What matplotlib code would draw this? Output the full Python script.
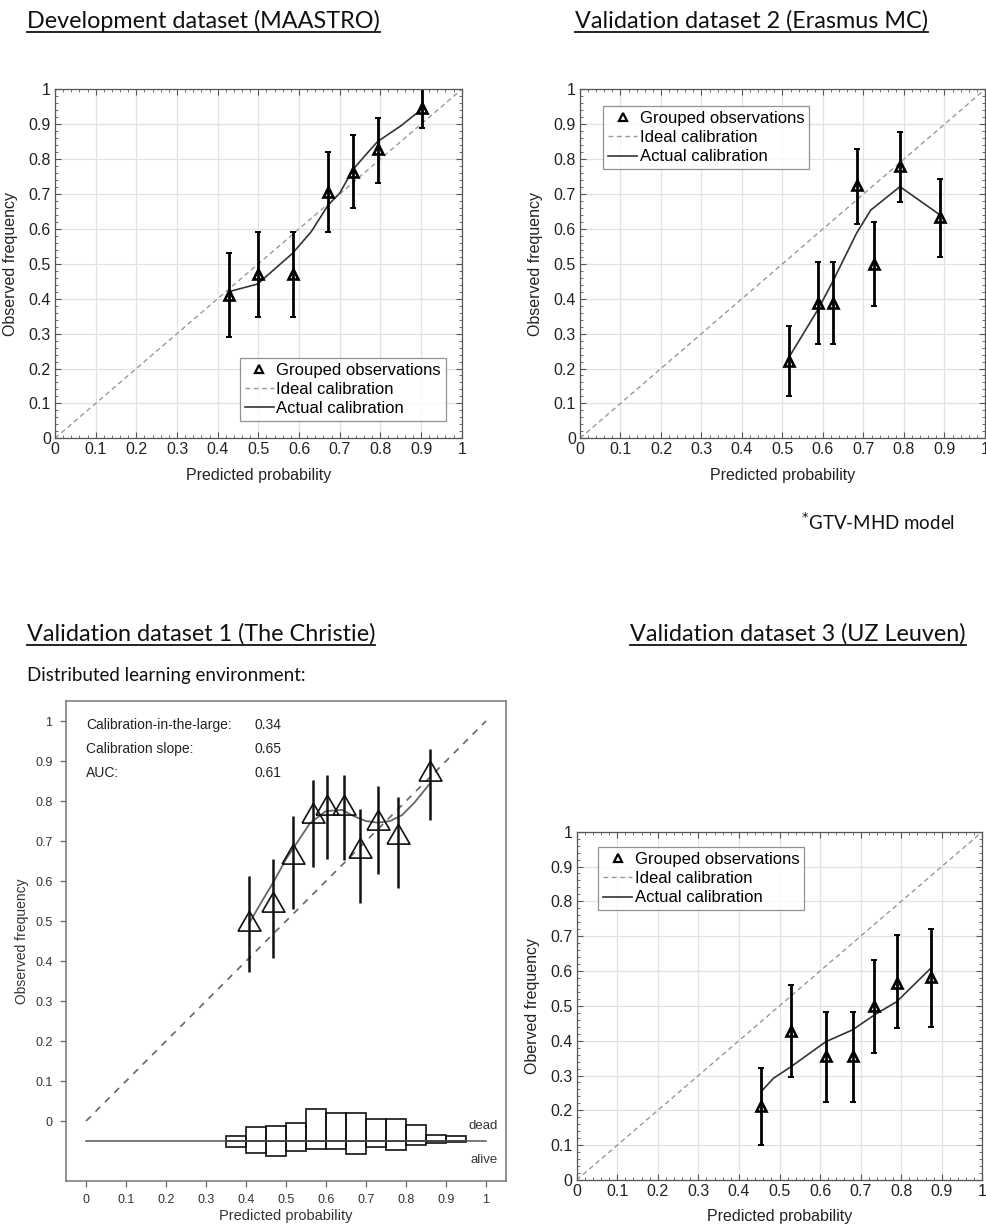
import numpy as np
import matplotlib
matplotlib.use('Agg')
import matplotlib.pyplot as plt
from matplotlib.lines import Line2D
from matplotlib.ticker import FixedLocator

# ---------------- data ----------------
# Development dataset (MAASTRO)
dev_pred = [0.427, 0.498, 0.584, 0.672, 0.732, 0.793, 0.902]
dev_obs = [0.411, 0.471, 0.471, 0.707, 0.764, 0.829, 0.946]
dev_lo = [0.291, 0.347, 0.347, 0.592, 0.661, 0.731, 0.888]
dev_hi = [0.530, 0.592, 0.592, 0.819, 0.869, 0.917, 1.000]
dev_curve_x = [0.427, 0.498, 0.545, 0.584, 0.630, 0.672, 0.700, 0.732, 0.760, 0.793, 0.850, 0.902]
dev_curve_y = [0.420, 0.442, 0.490, 0.530, 0.592, 0.669, 0.702, 0.769, 0.807, 0.850, 0.895, 0.943]

# Validation dataset 2 (Erasmus MC)
v2_pred = [0.517, 0.587, 0.624, 0.683, 0.726, 0.790, 0.889]
v2_obs = [0.222, 0.389, 0.389, 0.726, 0.500, 0.780, 0.633]
v2_lo = [0.121, 0.270, 0.270, 0.614, 0.380, 0.678, 0.519]
v2_hi = [0.322, 0.506, 0.506, 0.829, 0.619, 0.877, 0.743]
v2_curve_x = [0.517, 0.587, 0.624, 0.683, 0.718, 0.790, 0.889]
v2_curve_y = [0.234, 0.368, 0.449, 0.588, 0.654, 0.721, 0.640]

# Validation dataset 3 (UZ Leuven)
v3_pred = [0.455, 0.528, 0.614, 0.680, 0.734, 0.789, 0.873]
v3_obs = [0.213, 0.428, 0.356, 0.356, 0.500, 0.567, 0.584]
v3_lo = [0.100, 0.297, 0.225, 0.225, 0.364, 0.435, 0.438]
v3_hi = [0.321, 0.560, 0.483, 0.483, 0.633, 0.703, 0.721]
v3_curve_x = [0.455, 0.485, 0.528, 0.614, 0.680, 0.734, 0.789, 0.873]
v3_curve_y = [0.254, 0.292, 0.325, 0.397, 0.431, 0.474, 0.512, 0.608]

# Validation dataset 1 (The Christie) - distributed learning
v1_pred = [0.408, 0.468, 0.517, 0.567, 0.603, 0.645, 0.684, 0.730, 0.781, 0.859]
v1_obs = [0.493, 0.539, 0.659, 0.762, 0.783, 0.783, 0.676, 0.746, 0.709, 0.867]
v1_lo = [0.373, 0.408, 0.529, 0.635, 0.654, 0.652, 0.545, 0.618, 0.582, 0.753]
v1_hi = [0.613, 0.656, 0.763, 0.852, 0.865, 0.865, 0.780, 0.838, 0.809, 0.930]
v1_curve_x = [0.408, 0.440, 0.470, 0.500, 0.530, 0.560, 0.600, 0.640, 0.670, 0.700, 0.730, 0.760, 0.790, 0.820, 0.859]
v1_curve_y = [0.495, 0.550, 0.600, 0.655, 0.700, 0.745, 0.775, 0.778, 0.762, 0.750, 0.746, 0.750, 0.765, 0.795, 0.843]
v1_bin_edges = [0.35, 0.40, 0.45, 0.50, 0.55, 0.60, 0.65, 0.70, 0.75, 0.80, 0.85, 0.90]
v1_dead = [0.012, 0.035, 0.038, 0.046, 0.079, 0.071, 0.070, 0.054, 0.055, 0.039, 0.015, 0.012]
v1_alive = [0.015, 0.030, 0.038, 0.025, 0.021, 0.021, 0.033, 0.015, 0.022, 0.011, 0.006, 0.003]
v1_stats_labels = ["Calibration-in-the-large:", "Calibration slope:", "AUC:"]
v1_stats_values = ["0.34", "0.65", "0.61"]

ticks = [0, 0.1, 0.2, 0.3, 0.4, 0.5, 0.6, 0.7, 0.8, 0.9, 1]
tick_labels = ["0", "0.1", "0.2", "0.3", "0.4", "0.5", "0.6", "0.7", "0.8", "0.9", "1"]
legend_labels = ["Grouped observations", "Ideal calibration", "Actual calibration"]

# ---------------- figure ----------------
W, H = 987, 1226
fig = plt.figure(figsize=(W / 100, H / 100), dpi=100)
fig.patch.set_facecolor('white')
plt.rcParams['font.family'] = ['Liberation Sans', 'DejaVu Sans']


def px_axes(left, top, right, bottom):
    return fig.add_axes([left / W, 1 - bottom / H, (right - left) / W, (bottom - top) / H])


def matlab_panel(ax, px, obs, lo, hi, cx, cy, ylabel, legend_anchor, legend_loc, xlab_y):
    ax.set_xlim(0, 1)
    ax.set_ylim(0, 1)
    ax.set_xticks(ticks)
    ax.set_yticks(ticks)
    ax.set_xticklabels(tick_labels)
    ax.set_yticklabels(tick_labels)
    ax.xaxis.set_minor_locator(FixedLocator(np.arange(0, 1.001, 0.02)))
    ax.yaxis.set_minor_locator(FixedLocator(np.arange(0, 1.001, 0.02)))
    ax.grid(True, which='major', color='#e2e2e2', lw=0.9)
    ax.set_axisbelow(True)
    ax.tick_params(which='both', direction='in', top=True, right=True, color='#555555')
    ax.tick_params(which='major', length=4, width=0.8, labelsize=11.5, labelcolor='#222222', pad=3)
    ax.tick_params(which='minor', length=2, width=0.6)
    for s in ax.spines.values():
        s.set_color('#555555')
        s.set_linewidth(0.9)
    ax.plot([0, 1], [0, 1], ls=(0, (3.5, 2.5)), color='#999999', lw=1.0)
    ax.plot(cx, cy, color='#333333', lw=1.2)
    obs_a = np.array(obs)
    ax.errorbar(px, obs, yerr=[obs_a - np.array(lo), np.array(hi) - obs_a], fmt='none',
                ecolor='black', elinewidth=2.0, capsize=2.2, capthick=1.4)
    ax.plot(px, obs, ls='none', marker='^', ms=7.5, mfc='none', mec='black', mew=1.9)
    ax.set_xlabel("Predicted probability", fontsize=11.5, color='#222222')
    ax.set_ylabel(ylabel, fontsize=11.5, color='#222222')
    ax.xaxis.set_label_coords(0.5, xlab_y)
    ax.yaxis.set_label_coords(-0.091, 0.5)
    handles = [
        Line2D([], [], ls='none', marker='^', ms=6, mfc='none', mec='black', mew=1.6),
        Line2D([], [], ls=(0, (3.5, 2.5)), color='#999999', lw=1.0),
        Line2D([], [], color='#333333', lw=1.2),
    ]
    leg = ax.legend(handles, legend_labels, loc=legend_loc, bbox_to_anchor=legend_anchor,
                    borderaxespad=0, fontsize=12, frameon=True, fancybox=False,
                    handlelength=1.75, handletextpad=0.15, labelspacing=0.25,
                    borderpad=0.3)
    leg.get_frame().set_edgecolor('#777777')
    leg.get_frame().set_linewidth(0.9)


# top-left
ax1 = px_axes(55, 89.3, 461.7, 438.3)
matlab_panel(ax1, dev_pred, dev_obs, dev_lo, dev_hi, dev_curve_x, dev_curve_y,
             "Observed frequency", (0.961, 0.05), 'lower right', -0.085)
# top-right
ax2 = px_axes(580, 89.3, 985, 438.3)
matlab_panel(ax2, v2_pred, v2_obs, v2_lo, v2_hi, v2_curve_x, v2_curve_y,
             "Observed frequency", (0.057, 0.952), 'upper left', -0.085)
# bottom-right
ax4 = px_axes(576.7, 831.7, 982.3, 1180)
matlab_panel(ax4, v3_pred, v3_obs, v3_lo, v3_hi, v3_curve_x, v3_curve_y,
             "Oberved frequency", (0.0525, 0.956), 'upper left', -0.084)

# bottom-left (R style)
ax3 = px_axes(65.7, 700.7, 506, 1181)
ax3.set_xlim(-0.051, 1.05)
ax3.set_ylim(-0.15, 1.051)
ax3.set_xticks(ticks)
ax3.set_yticks(ticks)
ax3.set_xticklabels(tick_labels)
ax3.set_yticklabels(tick_labels)
ax3.tick_params(direction='out', length=4.5, width=0.9, color='#666666', labelsize=9,
                labelcolor='#333333', pad=5)
for s in ax3.spines.values():
    s.set_color('#777777')
    s.set_linewidth(1.1)
ax3.plot([0, 1], [0, 1], ls=(0, (4, 4)), color='#666666', lw=1.2)
ax3.plot(v1_curve_x, v1_curve_y, color='#666666', lw=1.3)
v1o = np.array(v1_obs)
ax3.errorbar(v1_pred, v1_obs, yerr=[v1o - np.array(v1_lo), np.array(v1_hi) - v1o], fmt='none',
             ecolor='#111111', elinewidth=1.8, capsize=0)
tri = [(-1, -0.577), (1, -0.577), (0, 1.155), (-1, -0.577)]
ax3.plot(v1_pred, v1_obs, ls='none', marker=tri, ms=19, mfc='none', mec='#111111', mew=1.2)
# histogram of predicted probabilities (dead above, alive below the baseline)
base = -0.05
ax3.plot([0, 1], [base, base], color='#555555', lw=1.1)
ax3.bar(v1_bin_edges, v1_dead, width=0.05, bottom=base, align='edge',
        facecolor='none', edgecolor='#111111', lw=1.2)
ax3.bar(v1_bin_edges, [-a for a in v1_alive], width=0.05, bottom=base, align='edge',
        facecolor='none', edgecolor='#111111', lw=1.2)
ax3.text(1.03, -0.012, "dead", ha='right', va='center', fontsize=9.5, color='#333333')
ax3.text(1.03, -0.0975, "alive", ha='right', va='center', fontsize=9.5, color='#333333')
for i, (lab, val) in enumerate(zip(v1_stats_labels, v1_stats_values)):
    ax3.text(0.0, 0.99 - 0.06 * i, lab, ha='left', va='center', fontsize=10, color='#222222')
    ax3.text(0.42, 0.99 - 0.06 * i, val, ha='left', va='center', fontsize=10, color='#222222')
ax3.set_xlabel("Predicted probability", fontsize=10.5, color='#333333')
ax3.set_ylabel("Observed frequency", fontsize=10, color='#333333')
ax3.xaxis.set_label_coords(0.5, -0.058)
ax3.yaxis.set_label_coords(-0.083, 0.5)

# ---------------- titles ----------------
renderer = fig.canvas.get_renderer()
title_font = ['Lato', 'DejaVu Sans']


def fig_text(x, y, s, size, ha='left', underline=False):
    t = fig.text(x / W, 1 - y / H, s, fontsize=size, ha=ha, va='baseline',
                 family=title_font, color='#111111')
    if underline:
        bb = t.get_window_extent(renderer)
        yl = (1 - y / H) - 4.0 / H
        fig.add_artist(Line2D([bb.x0 / W, bb.x1 / W], [yl, yl], transform=fig.transFigure,
                              color='#111111', lw=1.3))
    return t


# fit title font size to measured width of the first title
probe = fig.text(0, 0, "Development dataset (MAASTRO)", fontsize=16, family=title_font)
w16 = probe.get_window_extent(renderer).width
probe.remove()
tsize = 16 * 354.0 / w16

fig_text(27, 28, "Development dataset (MAASTRO)", tsize, underline=True)
fig_text(575, 28, "Validation dataset 2 (Erasmus MC)", tsize, underline=True)
fig_text(27, 641, "Validation dataset 1 (The Christie)", tsize, underline=True)
fig_text(966, 641, "Validation dataset 3 (UZ Leuven)", tsize, ha='right', underline=True)
fig_text(27, 681, "Distributed learning environment:", tsize * 0.80)
fig_text(955, 530, "$^{*}$GTV-MHD model", tsize * 0.80, ha='right')

fig.savefig('out.png', dpi=100, facecolor='white')
